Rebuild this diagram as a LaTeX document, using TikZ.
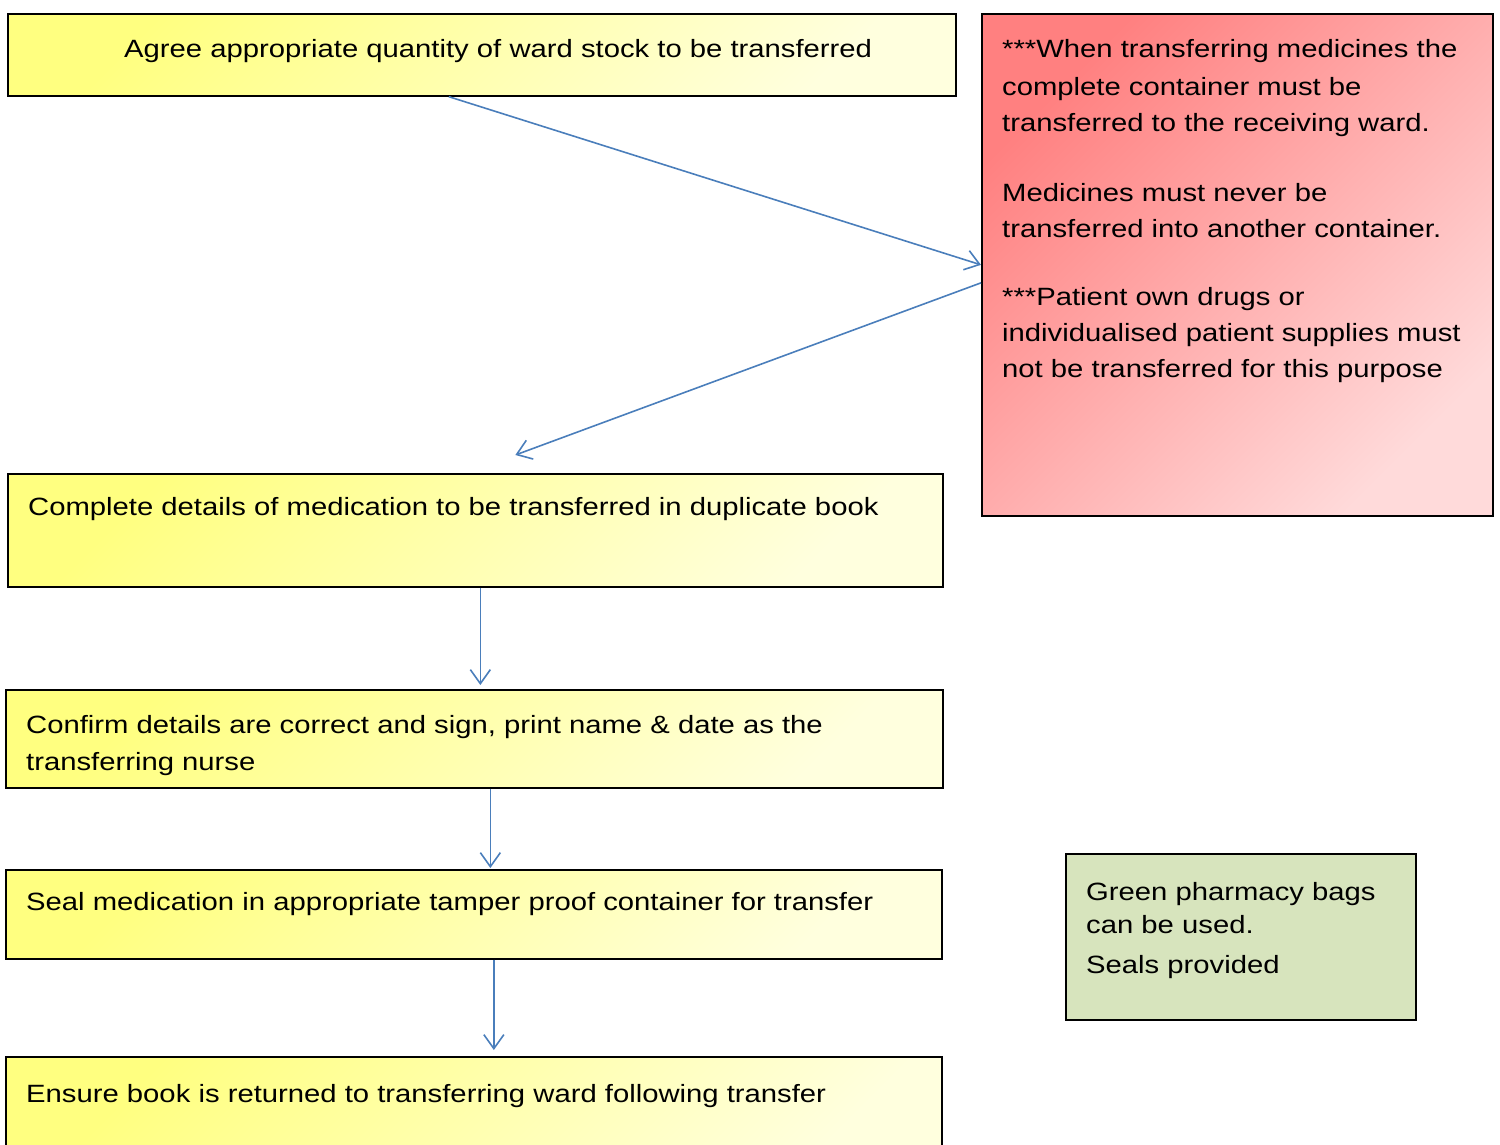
\documentclass[tikz,border=0pt]{standalone}
\usepackage{fontspec}
\setmainfont{Liberation Sans}[FakeStretch=1.17]
\usetikzlibrary{arrows.meta}

\definecolor{boxyellow}{RGB}{255,255,128}
\definecolor{paleyellow}{RGB}{255,255,222}
\definecolor{boxred}{RGB}{255,128,128}
\definecolor{palered}{RGB}{255,218,218}
\definecolor{boxgreen}{RGB}{215,228,189}
\definecolor{flowblue}{RGB}{74,126,187}

\begin{document}
\begin{tikzpicture}[x=1pt, y=-1pt,
    box/.style={draw=black, line width=1.7pt, inner sep=0pt, anchor=north west},
    stepbox/.style={box, top color=boxyellow, bottom color=paleyellow, shading angle=45},
    notebox/.style={box, top color=boxred, bottom color=palered, shading angle=45},
    bagbox/.style={box, fill=boxgreen},
    txt/.style={inner sep=0pt, anchor=base west, align=left, font=\fontsize{25}{36}\selectfont},
    flow/.style={draw=flowblue, line width=1.6pt, -{Straight Barb[length=14pt,width=20pt]}}]

    % Frame
    \useasboundingbox (0,0) rectangle (1500,1145);
    \clip (0,0) rectangle (1500,1145);

    % Boxes
    \node[stepbox, minimum width=948pt, minimum height=82pt] (agree) at (7,13) {};
    \node[notebox, minimum width=511pt, minimum height=502pt] (notes) at (981,13) {};
    \node[stepbox, minimum width=935pt, minimum height=113pt] (record) at (7,473) {};
    \node[stepbox, minimum width=937pt, minimum height=98pt] (confirm) at (5,689) {};
    \node[stepbox, minimum width=936pt, minimum height=89pt] (seal) at (5,869) {};
    \node[stepbox, minimum width=936pt, minimum height=130pt] (ensure) at (5,1056) {};
    \node[bagbox, minimum width=350pt, minimum height=166pt] (bags) at (1065,853) {};

    % Arrows
    \draw[flow] ([xshift=-33pt]agree.south) -- (notes.west);
    \draw[flow] ([yshift=-18pt]notes.west) -- ([shift={(40pt,18pt)}]record.north);
    \draw[flow, shorten >=4pt] ([xshift=5pt]record.south) -- ([xshift=5pt]record.south |- confirm.north);
    \draw[flow, shorten >=1pt] ([xshift=16pt]confirm.south) -- ([xshift=16pt]confirm.south |- seal.north);
    \draw[flow, shorten >=6pt] ([xshift=20pt]seal.south) -- ([xshift=20pt]seal.south |- ensure.north);

    % Texts (multi-line texts sit on the baseline of their last line)
    \node[txt] (agree-t) at ([shift={(117pt,-45pt)}]agree.north west)
        {Agree appropriate quantity of ward stock to be transferred};
    \node[txt] (notes-t) at ([shift={(21pt,-364pt)}]notes.north west)
        {***When transferring medicines the\\[2pt]
         complete container must be\\
         transferred to the receiving ward.\\[34pt]
         Medicines must never be\\
         transferred into another container.\\[32pt]
         ***Patient own drugs or\\
         individualised patient supplies must\\
         not be transferred for this purpose};
    \node[txt] (record-t) at ([shift={(21pt,-42pt)}]record.north west)
        {Complete details of medication to be transferred in duplicate book};
    \node[txt] (confirm-t) at ([shift={(21pt,-81pt)}]confirm.north west)
        {Confirm details are correct and sign, print name \& date as the\\[1pt]
         transferring nurse};
    \node[txt] (seal-t) at ([shift={(21pt,-41pt)}]seal.north west)
        {Seal medication in appropriate tamper proof container for transfer};
    \node[txt] (ensure-t) at ([shift={(21pt,-46pt)}]ensure.north west)
        {Ensure book is returned to transferring ward following transfer};
    \node[txt, font=\fontsize{25}{33}\selectfont] (bags-t) at ([shift={(21pt,-120pt)}]bags.north west)
        {Green pharmacy bags\\
         can be used.\\[7pt]
         Seals provided};
\end{tikzpicture}
\end{document}
